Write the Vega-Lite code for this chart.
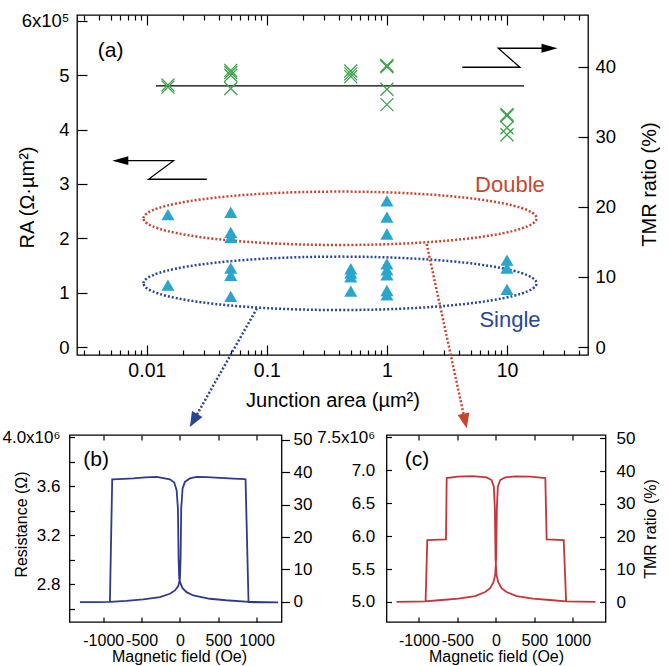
{
  "$schema": "https://vega.github.io/schema/vega-lite/v6.json",
  "autosize": {"type": "none"},
  "padding": {"left": 69.5, "top": 15, "right": 598.5, "bottom": 651},
  "background": "white",
  "config": {
    "font": "Liberation Sans",
    "view": {"stroke": "black", "strokeWidth": 1.3},
    "axis": {"grid": false, "domain": false, "tickColor": "black", "tickWidth": 1.2, "labelColor": "black", "titleColor": "black", "titleFontWeight": "normal", "labelOverlap": false, "labelFlush": false, "labelFont": "Liberation Sans", "titleFont": "Liberation Sans"}
  },
  "datasets": {
    "amain": [
      {"kind": "ell", "s": "Double", "x": 0.407, "ra": 2.369},
      {"kind": "ell", "s": "Single", "x": 0.407, "ra": 1.172},
      {"kind": "hline", "x": 0.01189, "x2": 13.86, "ra": 4.804},
      {"kind": "zig", "s": "L", "o": 1, "x": 0.0316, "ra": 3.087},
      {"kind": "zig", "s": "L", "o": 2, "x": 0.01033, "ra": 3.087},
      {"kind": "zig", "s": "L", "o": 3, "x": 0.01669, "ra": 3.429},
      {"kind": "zig", "s": "L", "o": 4, "x": 0.00601, "ra": 3.429},
      {"kind": "zig", "s": "R", "o": 1, "x": 4.242, "ra": 5.148},
      {"kind": "zig", "s": "R", "o": 2, "x": 12.83, "ra": 5.148},
      {"kind": "zig", "s": "R", "o": 3, "x": 8.46, "ra": 5.498},
      {"kind": "zig", "s": "R", "o": 4, "x": 22.6, "ra": 5.498},
      {"kind": "head", "s": "left", "x": 0.00601, "ra": 3.429},
      {"kind": "head", "s": "right", "x": 22.6, "ra": 5.498},
      {"kind": "darrow", "s": "Single", "x": 0.08254, "ra": 0.712, "x2": 0.0245, "ra2": -1.353},
      {"kind": "darrow", "s": "Double", "x": 2.142, "ra": 1.896, "x2": 4.476, "ra2": -1.362},
      {"kind": "dhead", "s": "Single", "x": 0.0245, "ra": -1.353},
      {"kind": "dhead", "s": "Double", "x": 4.476, "ra": -1.362},
      {"kind": "tri", "x": 0.015, "ra": 2.435},
      {"kind": "tri", "x": 0.015, "ra": 1.14},
      {"kind": "tri", "x": 0.05, "ra": 2.48},
      {"kind": "tri", "x": 0.05, "ra": 2.11},
      {"kind": "tri", "x": 0.05, "ra": 2.02},
      {"kind": "tri", "x": 0.05, "ra": 1.45},
      {"kind": "tri", "x": 0.05, "ra": 1.32},
      {"kind": "tri", "x": 0.05, "ra": 0.93},
      {"kind": "tri", "x": 0.5, "ra": 1.44},
      {"kind": "tri", "x": 0.5, "ra": 1.36},
      {"kind": "tri", "x": 0.5, "ra": 1.29},
      {"kind": "tri", "x": 0.5, "ra": 1.03},
      {"kind": "tri", "x": 1, "ra": 2.69},
      {"kind": "tri", "x": 1, "ra": 2.39},
      {"kind": "tri", "x": 1, "ra": 2.08},
      {"kind": "tri", "x": 1, "ra": 1.53},
      {"kind": "tri", "x": 1, "ra": 1.42},
      {"kind": "tri", "x": 1, "ra": 1.33},
      {"kind": "tri", "x": 1, "ra": 1.04},
      {"kind": "tri", "x": 1, "ra": 0.96},
      {"kind": "tri", "x": 10, "ra": 1.6},
      {"kind": "tri", "x": 10, "ra": 1.45},
      {"kind": "tri", "x": 10, "ra": 1.06},
      {"kind": "label", "s": "Double", "x": 10.59, "ra": 2.858, "t": "Double"},
      {"kind": "label", "s": "Single", "x": 10.59, "ra": 0.374, "t": "Single"},
      {"kind": "tag", "x": 0.003908, "ra": 5.34, "t": "(a)"}
    ],
    "across": [
      {"x": 0.015, "tmr": 37.1}, {"x": 0.015, "tmr": 37.4},
      {"x": 0.05, "tmr": 39.5}, {"x": 0.05, "tmr": 39.2}, {"x": 0.05, "tmr": 38.8}, {"x": 0.05, "tmr": 36.9},
      {"x": 0.5, "tmr": 39.4}, {"x": 0.5, "tmr": 39.0}, {"x": 0.5, "tmr": 38.6},
      {"x": 1, "tmr": 40.0}, {"x": 1, "tmr": 40.2}, {"x": 1, "tmr": 36.8}, {"x": 1, "tmr": 34.6},
      {"x": 10, "tmr": 33.0}, {"x": 10, "tmr": 33.2}, {"x": 10, "tmr": 31.3}, {"x": 10, "tmr": 30.3}
    ],
    "bcurve": [
      {"i": 1, "H": -1304, "R": 2.652}, {"i": 2, "H": -1100, "R": 2.652}, {"i": 3, "H": -913, "R": 2.655},
      {"i": 4, "H": -700, "R": 2.663}, {"i": 5, "H": -478, "R": 2.675}, {"i": 6, "H": -261, "R": 2.693},
      {"i": 7, "H": -130, "R": 2.721}, {"i": 8, "H": -65, "R": 2.748}, {"i": 9, "H": -22, "R": 2.784},
      {"i": 10, "H": 0, "R": 2.839}, {"i": 11, "H": 9, "R": 3.008}, {"i": 12, "H": 17, "R": 3.418},
      {"i": 13, "H": 35, "R": 3.582}, {"i": 14, "H": 65, "R": 3.636}, {"i": 15, "H": 130, "R": 3.664},
      {"i": 16, "H": 217, "R": 3.677}, {"i": 17, "H": 350, "R": 3.674}, {"i": 18, "H": 522, "R": 3.669},
      {"i": 19, "H": 700, "R": 3.663}, {"i": 20, "H": 847, "R": 3.658}, {"i": 21, "H": 856, "R": 3.656},
      {"i": 22, "H": 895, "R": 2.652}, {"i": 23, "H": 1100, "R": 2.65}, {"i": 24, "H": 1282, "R": 2.65},
      {"i": 25, "H": 900, "R": 2.655}, {"i": 26, "H": 600, "R": 2.668}, {"i": 27, "H": 391, "R": 2.68},
      {"i": 28, "H": 174, "R": 2.707}, {"i": 29, "H": 87, "R": 2.734}, {"i": 30, "H": 35, "R": 2.767},
      {"i": 31, "H": 9, "R": 2.803}, {"i": 32, "H": -9, "R": 2.844}, {"i": 33, "H": -17, "R": 3.008},
      {"i": 34, "H": -26, "R": 3.418}, {"i": 35, "H": -43, "R": 3.568}, {"i": 36, "H": -74, "R": 3.63},
      {"i": 37, "H": -130, "R": 3.656}, {"i": 38, "H": -304, "R": 3.677}, {"i": 39, "H": -450, "R": 3.672},
      {"i": 40, "H": -608, "R": 3.664}, {"i": 41, "H": -800, "R": 3.659}, {"i": 42, "H": -883, "R": 3.656},
      {"i": 43, "H": -913, "R": 2.655}, {"i": 44, "H": -1100, "R": 2.652}, {"i": 45, "H": -1304, "R": 2.652}
    ],
    "ccurve": [
      {"i": 1, "H": -1291, "R": 5.0}, {"i": 2, "H": -1100, "R": 5.005}, {"i": 3, "H": -922, "R": 5.01},
      {"i": 4, "H": -700, "R": 5.03}, {"i": 5, "H": -487, "R": 5.05}, {"i": 6, "H": -270, "R": 5.09},
      {"i": 7, "H": -139, "R": 5.15}, {"i": 8, "H": -74, "R": 5.21}, {"i": 9, "H": -31, "R": 5.3},
      {"i": 10, "H": -9, "R": 5.41}, {"i": 11, "H": 4, "R": 5.66}, {"i": 12, "H": 13, "R": 6.42},
      {"i": 13, "H": 26, "R": 6.75}, {"i": 14, "H": 56, "R": 6.85}, {"i": 15, "H": 121, "R": 6.89},
      {"i": 16, "H": 252, "R": 6.905}, {"i": 17, "H": 450, "R": 6.9}, {"i": 18, "H": 643, "R": 6.88},
      {"i": 19, "H": 660, "R": 5.95}, {"i": 20, "H": 882, "R": 5.94}, {"i": 21, "H": 913, "R": 5.01},
      {"i": 22, "H": 1100, "R": 5.005}, {"i": 23, "H": 1295, "R": 5.0},
      {"i": 24, "H": 913, "R": 5.01}, {"i": 25, "H": 700, "R": 5.03}, {"i": 26, "H": 480, "R": 5.05},
      {"i": 27, "H": 270, "R": 5.09}, {"i": 28, "H": 139, "R": 5.15}, {"i": 29, "H": 74, "R": 5.21},
      {"i": 30, "H": 31, "R": 5.3}, {"i": 31, "H": 9, "R": 5.41}, {"i": 32, "H": -4, "R": 5.66},
      {"i": 33, "H": -13, "R": 6.42}, {"i": 34, "H": -26, "R": 6.75}, {"i": 35, "H": -56, "R": 6.85},
      {"i": 36, "H": -121, "R": 6.89}, {"i": 37, "H": -300, "R": 6.91}, {"i": 38, "H": -500, "R": 6.9},
      {"i": 39, "H": -639, "R": 6.88}, {"i": 40, "H": -648, "R": 5.95}, {"i": 41, "H": -891, "R": 5.94},
      {"i": 42, "H": -913, "R": 5.01}, {"i": 43, "H": -1100, "R": 5.005}, {"i": 44, "H": -1291, "R": 5.0}
    ]
  },
  "spacing": 420,
  "bounds": "flush",
  "vconcat": [
    {
      "spacing": 6.5,
      "bounds": "flush",
      "hconcat": [
        {
          "width": 1, "height": 1,
          "view": {"stroke": null},
          "data": {"values": [{"v": 0}]},
          "mark": {"type": "point", "opacity": 0},
          "encoding": {}
        },
        {
          "width": 511, "height": 340,
          "resolve": {"scale": {"x": "independent", "y": "independent"}},
          "layer": [
            {
              "data": {"name": "amain"},
              "encoding": {
                "x": {"field": "x", "type": "quantitative",
                  "scale": {"type": "log", "domain": [0.00262, 47.3], "nice": false},
                  "axis": {"orient": "bottom",
                    "values": [0.003, 0.004, 0.005, 0.006, 0.007, 0.008, 0.009, 0.01, 0.02, 0.03, 0.04, 0.05, 0.06, 0.07, 0.08, 0.09, 0.1, 0.2, 0.3, 0.4, 0.5, 0.6, 0.7, 0.8, 0.9, 1, 2, 3, 4, 5, 6, 7, 8, 9, 10, 20, 30, 40],
                    "format": "~g",
                    "labelExpr": "abs(log(datum.value)/LN10 - round(log(datum.value)/LN10)) < 0.01 ? datum.label : ''",
                    "tickSize": {"condition": {"test": "abs(log(datum.value)/LN10 - round(log(datum.value)/LN10)) < 0.01", "value": -10}, "value": -5},
                    "labelPadding": 16.6, "labelFontSize": 19.5,
                    "title": "Junction area (µm²)", "titleFontSize": 20, "titleY": 51.5, "titleBaseline": "alphabetic"}},
                "y": {"field": "ra", "type": "quantitative",
                  "scale": {"domain": [-0.147, 6.11], "nice": false, "zero": false},
                  "axis": {"orient": "left", "values": [0, 1, 2, 3, 4, 5, 6],
                    "labelExpr": "datum.value == 6 ? '6x10⁵' : datum.label",
                    "tickSize": -10, "labelPadding": 18, "labelFontSize": 18.5,
                    "title": "RA (Ω·µm²)", "titleFontSize": 20, "titleAngle": 270, "titleX": -43.7, "titleY": 182, "titleBaseline": "alphabetic", "titleAlign": "center"}}
              },
              "layer": [
                {
                  "transform": [{"filter": "datum.kind == 'ell'"}],
                  "mark": {"type": "point", "shape": "M-1,0C-1,-0.0751,-0.5523,-0.1359,0,-0.1359C0.5523,-0.1359,1,-0.0751,1,0C1,0.0751,0.5523,0.1359,0,0.1359C-0.5523,0.1359,-1,0.0751,-1,0Z", "size": 154449, "filled": false, "strokeWidth": 2.5, "strokeDash": [2, 2], "opacity": 1},
                  "encoding": {"color": {"field": "s", "type": "nominal", "scale": {"domain": ["Double", "Single"], "range": ["#c8462e", "#2a4795"]}, "legend": null}}
                },
                {
                  "transform": [{"filter": "datum.kind == 'darrow'"}],
                  "mark": {"type": "rule", "strokeWidth": 2.5, "strokeDash": [2, 2]},
                  "encoding": {"x2": {"field": "x2"}, "y2": {"field": "ra2"},
                    "color": {"field": "s", "type": "nominal", "scale": {"domain": ["Double", "Single"], "range": ["#c8462e", "#2a4795"]}, "legend": null}}
                },
                {
                  "transform": [{"filter": "datum.kind == 'dhead' && datum.s == 'Single'"}],
                  "mark": {"type": "point", "shape": "M0,1L-0.8,-1L0.8,-1Z", "size": 225, "filled": true, "angle": 29.3, "opacity": 1, "color": "#2a4795"}
                },
                {
                  "transform": [{"filter": "datum.kind == 'dhead' && datum.s == 'Double'"}],
                  "mark": {"type": "point", "shape": "M0,1L-0.8,-1L0.8,-1Z", "size": 225, "filled": true, "angle": -12.2, "opacity": 1, "color": "#c8462e"}
                },
                {
                  "transform": [{"filter": "datum.kind == 'hline'"}],
                  "mark": {"type": "rule", "color": "black", "strokeWidth": 1.3},
                  "encoding": {"x2": {"field": "x2"}}
                },
                {
                  "transform": [{"filter": "datum.kind == 'zig'"}],
                  "mark": {"type": "line", "color": "black", "strokeWidth": 1.3},
                  "encoding": {"detail": {"field": "s"}, "order": {"field": "o", "type": "quantitative"}}
                },
                {
                  "transform": [{"filter": "datum.kind == 'head'"}],
                  "mark": {"type": "point", "size": 256, "filled": true, "color": "black", "opacity": 1},
                  "encoding": {"shape": {"field": "s", "type": "nominal", "scale": {"domain": ["left", "right"], "range": ["M-1,0L1,-0.55L1,0.55Z", "M1,0L-1,-0.55L-1,0.55Z"]}, "legend": null}}
                },
                {
                  "transform": [{"filter": "datum.kind == 'tri'"}],
                  "mark": {"type": "point", "shape": "triangle-up", "size": 170, "filled": true, "color": "#2aa5cb", "opacity": 1}
                },
                {
                  "transform": [{"filter": "datum.kind == 'label'"}],
                  "mark": {"type": "text", "fontSize": 22, "align": "center", "baseline": "alphabetic"},
                  "encoding": {"text": {"field": "t"},
                    "color": {"field": "s", "type": "nominal", "scale": {"domain": ["Double", "Single"], "range": ["#c8462e", "#2a4795"]}, "legend": null}}
                },
                {
                  "transform": [{"filter": "datum.kind == 'tag'"}],
                  "mark": {"type": "text", "fontSize": 21, "align": "left", "baseline": "alphabetic", "color": "black"},
                  "encoding": {"text": {"field": "t"}}
                }
              ]
            },
            {
              "data": {"name": "across"},
              "mark": {"type": "point", "shape": "M-1,-1L1,1M-1,1L1,-1", "size": 169, "filled": false, "strokeWidth": 1.3, "color": "#3fa34d", "opacity": 1},
              "encoding": {
                "x": {"field": "x", "type": "quantitative",
                  "scale": {"type": "log", "domain": [0.00262, 47.3], "nice": false},
                  "axis": {"orient": "top",
                    "values": [0.003, 0.004, 0.005, 0.006, 0.007, 0.008, 0.009, 0.01, 0.02, 0.03, 0.04, 0.05, 0.06, 0.07, 0.08, 0.09, 0.1, 0.2, 0.3, 0.4, 0.5, 0.6, 0.7, 0.8, 0.9, 1, 2, 3, 4, 5, 6, 7, 8, 9, 10, 20, 30, 40],
                    "labels": false,
                    "tickSize": {"condition": {"test": "abs(log(datum.value)/LN10 - round(log(datum.value)/LN10)) < 0.01", "value": -10}, "value": -5},
                    "title": null}},
                "y": {"field": "tmr", "type": "quantitative",
                  "scale": {"domain": [-1.14, 47.4], "nice": false, "zero": false},
                  "axis": {"orient": "right", "values": [0, 10, 20, 30, 40],
                    "tickSize": -10, "labelPadding": 17, "labelFontSize": 18.5,
                    "title": "TMR ratio (%)", "titleFontSize": 20, "titleAngle": 270, "titleX": 67, "titleY": 169, "titleBaseline": "alphabetic", "titleAlign": "center"}}
              }
            }
          ]
        }
      ]
    },
    {
      "spacing": 105,
      "bounds": "flush",
      "hconcat": [
        {
          "width": 212, "height": 187,
          "resolve": {"scale": {"x": "independent", "y": "independent"}},
          "layer": [
            {
              "data": {"name": "bcurve"},
              "mark": {"type": "line", "color": "#2f3a8f", "strokeWidth": 1.8},
              "encoding": {
                "x": {"field": "H", "type": "quantitative",
                  "scale": {"domain": [-1440, 1325], "nice": false, "zero": false},
                  "axis": {"orient": "bottom", "values": [-1000, -500, 0, 500, 1000], "labelExpr": "'' + datum.value", "tickSize": -5, "labelPadding": 15.4, "labelFontSize": 16,
                    "title": "Magnetic field (Oe)", "titleFontSize": 16, "titleY": 39.5, "titleX": 109.5, "titleBaseline": "alphabetic"}},
                "y": {"field": "R", "type": "quantitative",
                  "scale": {"domain": [2.49, 4.019], "nice": false, "zero": false},
                  "axis": {"orient": "left", "values": [2.6, 2.8, 3.0, 3.2, 3.4, 3.6, 3.8, 4.0],
                    "labelExpr": "abs(datum.value - 4) < 0.01 ? '4.0x10⁶' : (round(datum.value*10) % 4 == 0 ? format(datum.value, '.1f') : '')",
                    "tickSize": -5, "labelPadding": 14.5, "labelFontSize": 17,
                    "title": "Resistance (Ω)", "titleFontSize": 16, "titleAngle": 270, "titleX": -43, "titleY": 89, "titleBaseline": "alphabetic", "titleAlign": "center"}},
                "order": {"field": "i", "type": "quantitative"}
              }
            },
            {
              "data": {"values": [{"H": -1261, "tmr": 42.0, "t": "(b)"}]},
              "mark": {"type": "text", "fontSize": 21, "align": "left", "baseline": "alphabetic", "color": "black"},
              "encoding": {
                "x": {"field": "H", "type": "quantitative",
                  "scale": {"domain": [-1440, 1325], "nice": false, "zero": false},
                  "axis": {"orient": "top", "values": [-1000, -500, 0, 500, 1000], "tickSize": -5, "labels": false, "title": null}},
                "y": {"field": "tmr", "type": "quantitative",
                  "scale": {"domain": [-6.2, 51.5], "nice": false, "zero": false},
                  "axis": {"orient": "right", "values": [0, 10, 20, 30, 40, 50], "tickSize": 8, "labelPadding": 3.5, "labelFontSize": 17, "title": null}},
                "text": {"field": "t"}
              }
            }
          ]
        },
        {
          "width": 219, "height": 187,
          "resolve": {"scale": {"x": "independent", "y": "independent"}},
          "layer": [
            {
              "data": {"name": "ccurve"},
              "mark": {"type": "line", "color": "#c4363a", "strokeWidth": 1.8},
              "encoding": {
                "x": {"field": "H", "type": "quantitative",
                  "scale": {"domain": [-1421, 1425], "nice": false, "zero": false},
                  "axis": {"orient": "bottom", "values": [-1000, -500, 0, 500, 1000], "labelExpr": "'' + datum.value", "tickSize": -5, "labelPadding": 15.4, "labelFontSize": 16,
                    "title": "Magnetic field (Oe)", "titleFontSize": 16, "titleY": 39.5, "titleBaseline": "alphabetic"}},
                "y": {"field": "R", "type": "quantitative",
                  "scale": {"domain": [4.696, 7.533], "nice": false, "zero": false},
                  "axis": {"orient": "left", "values": [5.0, 5.5, 6.0, 6.5, 7.0, 7.5],
                    "labelExpr": "datum.value == 7.5 ? '7.5x10⁶' : format(datum.value, '.1f')",
                    "tickSize": -5, "labelPadding": 16.7, "labelFontSize": 17, "title": null}},
                "order": {"field": "i", "type": "quantitative"}
              }
            },
            {
              "data": {"values": [{"H": -1183, "tmr": 41.5, "t": "(c)"}]},
              "mark": {"type": "text", "fontSize": 21, "align": "left", "baseline": "alphabetic", "color": "black"},
              "encoding": {
                "x": {"field": "H", "type": "quantitative",
                  "scale": {"domain": [-1421, 1425], "nice": false, "zero": false},
                  "axis": {"orient": "top", "values": [-1000, -500, 0, 500, 1000], "tickSize": -5, "labels": false, "title": null}},
                "y": {"field": "tmr", "type": "quantitative",
                  "scale": {"domain": [-6.1, 51.0], "nice": false, "zero": false},
                  "axis": {"orient": "right", "values": [0, 10, 20, 30, 40, 50], "tickSize": -6, "labelPadding": 16.6, "labelFontSize": 17,
                    "title": "TMR ratio (%)", "titleFontSize": 16, "titleAngle": 270, "titleX": 50, "titleY": 93.5, "titleBaseline": "alphabetic", "titleAlign": "center"}},
                "text": {"field": "t"}
              }
            }
          ]
        }
      ]
    }
  ]
}
